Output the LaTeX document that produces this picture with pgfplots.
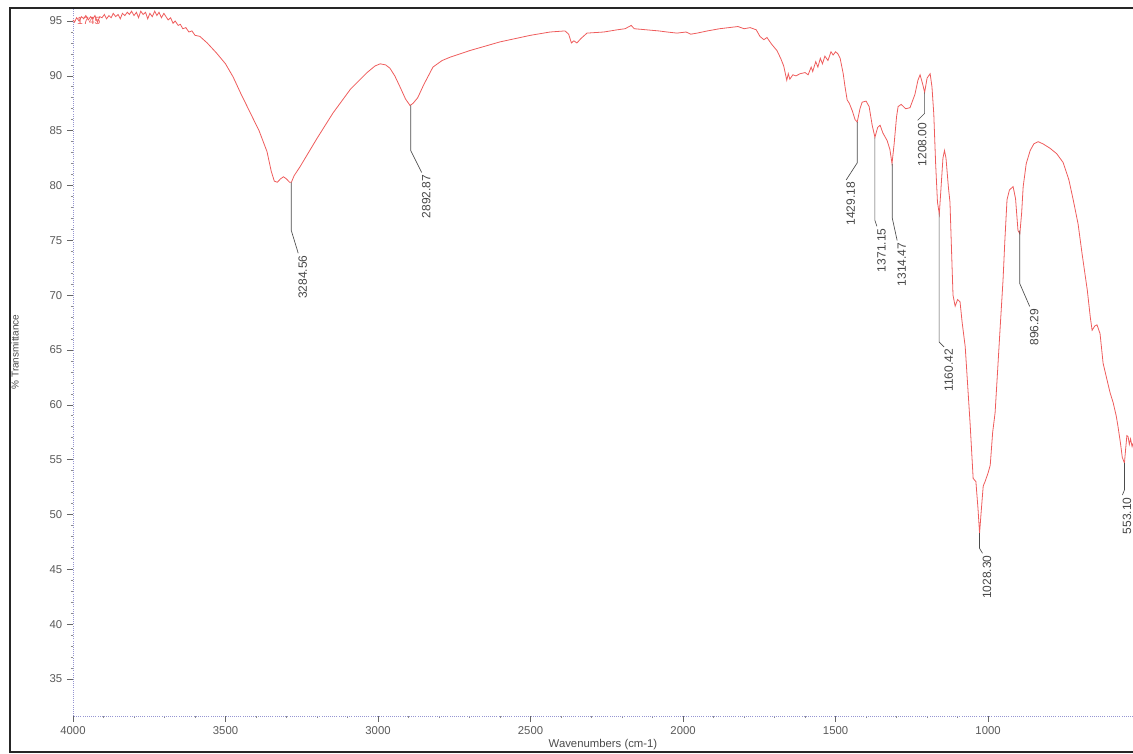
\documentclass[border=0pt]{standalone}
\usepackage{fontspec}
\setmainfont{Liberation Sans}
\usepackage{pgfplots}
\pgfplotsset{compat=1.18}
\definecolor{irred}{RGB}{238,92,92}
\definecolor{axblue}{RGB}{150,150,210}
\definecolor{labgray}{RGB}{70,70,70}
\tikzset{
  pk/.style={draw=black!70, line width=0.5pt},
  pklab/.style={rotate=90, anchor=north east, inner sep=0pt, text=labgray,
    font=\fontsize{9}{10}\selectfont},
}

\begin{document}
\begin{tikzpicture}
\useasboundingbox (0,0) rectangle (849.75pt,565.5pt);
% frame of the printed page
\draw[line width=1.6pt, color=black!85] (870pt,559.5pt) -- (7.5pt,559.5pt) -- (7.5pt,1.5pt) -- (870pt,1.5pt);
\begin{axis}[
    at={(54.75pt,28.5pt)}, anchor=south west,
    width=795pt, height=531pt, scale only axis,
    x dir=reverse,
    xmin=525, xmax=4000,
    ymin=31.63, ymax=96.19,
    axis x line*=bottom, axis y line*=left,
    axis line style={-, densely dotted, draw=axblue, line width=0.6pt},
    xtick={1000,1500,...,4000},
    ytick={35,40,...,95},
    minor x tick num=4, minor y tick num=4,
    tick align=outside,
    major tick length=4.5pt, minor tick length=1.5pt,
    tick style={draw=black!60, line width=0.5pt},
    minor tick style={draw=black!45, line width=0.6pt},
    tick label style={font=\fontsize{8.5}{10}\selectfont, text=black!65},
    /pgf/number format/assume math mode=true,
    /pgf/number format/1000 sep={},
    xlabel={Wavenumbers (cm-1)},
    ylabel={\% Transmittance},
    xlabel style={at={(axis description cs:0.5,-0.041)}, anchor=center,
      font=\fontsize{8.5}{10}\selectfont, text=black!70},
    ylabel style={at={(axis description cs:-0.0547,0.514)}, anchor=center,
      font=\fontsize{7.5}{9}\selectfont, text=black!70},
    clip=false,
]

\addplot[color=irred, line width=0.6pt, mark=none] table[x=wn, y=T]{
  wn     T
  4000  95.1
  3995  94.9
  3988  95.3
  3980  95.0
  3972  95.4
  3965  95.2
  3958  95.5
  3950  95.1
  3942  95.4
  3935  95.2
  3928  95.5
  3920  94.9
  3912  95.4
  3905  95.3
  3897  95.6
  3890  95.2
  3882  95.5
  3875  95.3
  3868  95.7
  3860  95.4
  3852  95.6
  3845  95.2
  3838  95.7
  3830  95.5
  3822  95.8
  3815  95.6
  3808  95.9
  3800  95.5
  3792  95.8
  3785  95.3
  3778  95.9
  3770  95.6
  3762  95.8
  3755  95.2
  3748  95.7
  3740  95.4
  3732  95.9
  3725  95.5
  3718  95.8
  3710  95.3
  3702  95.7
  3695  95.4
  3688  95.1
  3680  95.3
  3672  94.8
  3665  95.0
  3655  94.6
  3648  94.7
  3640  94.3
  3630  94.4
  3620  94.0
  3610  94.1
  3600  93.7
  3584  93.6
  3560  93.0
  3530  92.1
  3500  91.1
  3475  89.9
  3450  88.4
  3420  86.7
  3390  85.0
  3364  83.1
  3350  81.3
  3340  80.4
  3330  80.3
  3320  80.6
  3310  80.8
  3300  80.6
  3290  80.3
  3284  80.3
  3275  80.9
  3256  81.7
  3200  84.3
  3148  86.6
  3090  88.8
  3036  90.3
  3010  90.9
  2993  91.1
  2975  91.0
  2961  90.7
  2945  90.0
  2928  89.0
  2910  87.9
  2895  87.3
  2885  87.5
  2870  88.0
  2850  89.2
  2820  90.8
  2790  91.4
  2764  91.7
  2700  92.3
  2600  93.1
  2500  93.7
  2436  94.0
  2387  94.1
  2375  93.8
  2366  93.0
  2358  93.2
  2348  93.0
  2335  93.4
  2315  93.9
  2260  94.0
  2216  94.2
  2190  94.3
  2170  94.6
  2160  94.3
  2120  94.2
  2080  94.1
  2052  94.0
  2020  93.9
  1990  94.0
  1975  93.8
  1954  93.9
  1920  94.1
  1880  94.3
  1850  94.4
  1820  94.5
  1800  94.3
  1780  94.4
  1760  94.2
  1748  93.6
  1735  93.3
  1725  93.5
  1710  92.9
  1692  92.3
  1680  91.6
  1670  90.9
  1660  89.6
  1655  90.2
  1650  89.7
  1640  90.1
  1630  90.0
  1616  90.2
  1600  90.3
  1590  90.1
  1580  90.8
  1575  90.4
  1565  91.3
  1558  90.8
  1550  91.6
  1543  91.1
  1535  91.8
  1525  91.4
  1515  92.2
  1508  91.9
  1500  92.2
  1492  92.0
  1485  91.6
  1475  90.2
  1469  89.0
  1462  87.8
  1455  87.5
  1445  86.8
  1436  86.0
  1429  85.8
  1420  87.0
  1413  87.6
  1400  87.7
  1390  87.2
  1380  85.5
  1371  84.4
  1362  85.3
  1354  85.5
  1345  84.8
  1331  84.1
  1322  83.3
  1315  82.0
  1308  83.8
  1300  86.3
  1295  87.2
  1285  87.4
  1270  87.0
  1256  87.1
  1240  88.3
  1230  89.6
  1223  90.1
  1215  89.3
  1208  88.5
  1200  89.8
  1190  90.2
  1184  89.0
  1178  86.5
  1172  82.0
  1166  78.5
  1160  77.4
  1155  79.5
  1148  82.5
  1143  83.2
  1138  82.5
  1130  79.8
  1125  78.5
  1118  72.5
  1115  70.0
  1108  69.0
  1100  69.6
  1092  69.4
  1085  67.5
  1075  65.3
  1059  58.3
  1049  53.3
  1040  53.0
  1033  50.5
  1028  48.3
  1022  50.5
  1016  52.6
  1010  53.0
  1000  53.8
  993   54.5
  985   57.5
  977   59.3
  968   63.5
  961   66.8
  951   71.4
  945   75.0
  938   78.7
  930   79.6
  918   79.9
  910   78.8
  902   75.9
  896   75.6
  890   77.5
  885   79.9
  875   82.0
  862   83.2
  850   83.8
  836   84.0
  820   83.8
  797   83.4
  775   82.9
  754   82.1
  735   80.5
  721   78.7
  705   76.5
  692   73.8
  675   70.5
  665   68.0
  659   66.8
  650   67.2
  643   67.3
  633   66.5
  623   63.8
  612   62.5
  600   61.1
  590   60.2
  580   59.0
  574   58.0
  566   56.5
  560   55.2
  553   54.7
  549   56.0
  545   57.2
  541   57.1
  537   56.4
  533   56.9
  528   56.2
  525   56.5
};

\node[anchor=west, inner sep=0pt, text=irred, font=\fontsize{7.8}{9}\selectfont] at (axis cs:3987,95.0) {1745};

% peak labels
\draw[pk] (axis cs:3284.56,80.3) -- ++(0pt,-36pt) -- ++(5.25pt,-17.25pt) ++(0pt,-1.5pt) node[pklab] {3284.56};
\draw[pk] (axis cs:2892.87,87.3) -- ++(0pt,-33.75pt) -- ++(8.25pt,-16.5pt) ++(0pt,-1.5pt) node[pklab] {2892.87};
\draw[pk] (axis cs:1429.18,85.8) -- ++(0pt,-30.75pt) -- ++(-8.25pt,-12.75pt) ++(0pt,-1.5pt) node[pklab] {1429.18};
\draw[pk] (axis cs:1371.15,84.4) -- ++(0pt,-62.25pt) -- ++(1.5pt,-4.5pt) ++(0pt,-1.5pt) node[pklab] {1371.15};
\draw[pk] (axis cs:1314.47,82.0) -- ++(0pt,-40.5pt) -- ++(3.75pt,-17.25pt) ++(0pt,-1.5pt) node[pklab] {1314.47};
\draw[pk] (axis cs:1208.00,88.5) -- ++(0pt,-15.75pt) -- ++(-5.25pt,-5.25pt) ++(0pt,-1.5pt) node[pklab] {1208.00};
\draw[pk] (axis cs:1160.42,77.5) -- ++(0pt,-96.75pt) -- ++(3.75pt,-3.75pt) ++(0pt,-1.5pt) node[pklab] {1160.42};
\draw[pk] (axis cs:1028.30,48.3) -- ++(0pt,-11.25pt) -- ++(2.25pt,-3.75pt) ++(0pt,-1.5pt) node[pklab] {1028.30};
\draw[pk] (axis cs:896.29,75.9) -- ++(0pt,-39.75pt) -- ++(7.5pt,-17.25pt) ++(0pt,-1.5pt) node[pklab] {896.29};
\draw[pk] (axis cs:553.10,54.7) -- ++(0pt,-20.25pt) -- ++(-1.5pt,-3.75pt) ++(0pt,-1.5pt) node[pklab] {553.10};

\end{axis}
\end{tikzpicture}
\end{document}
